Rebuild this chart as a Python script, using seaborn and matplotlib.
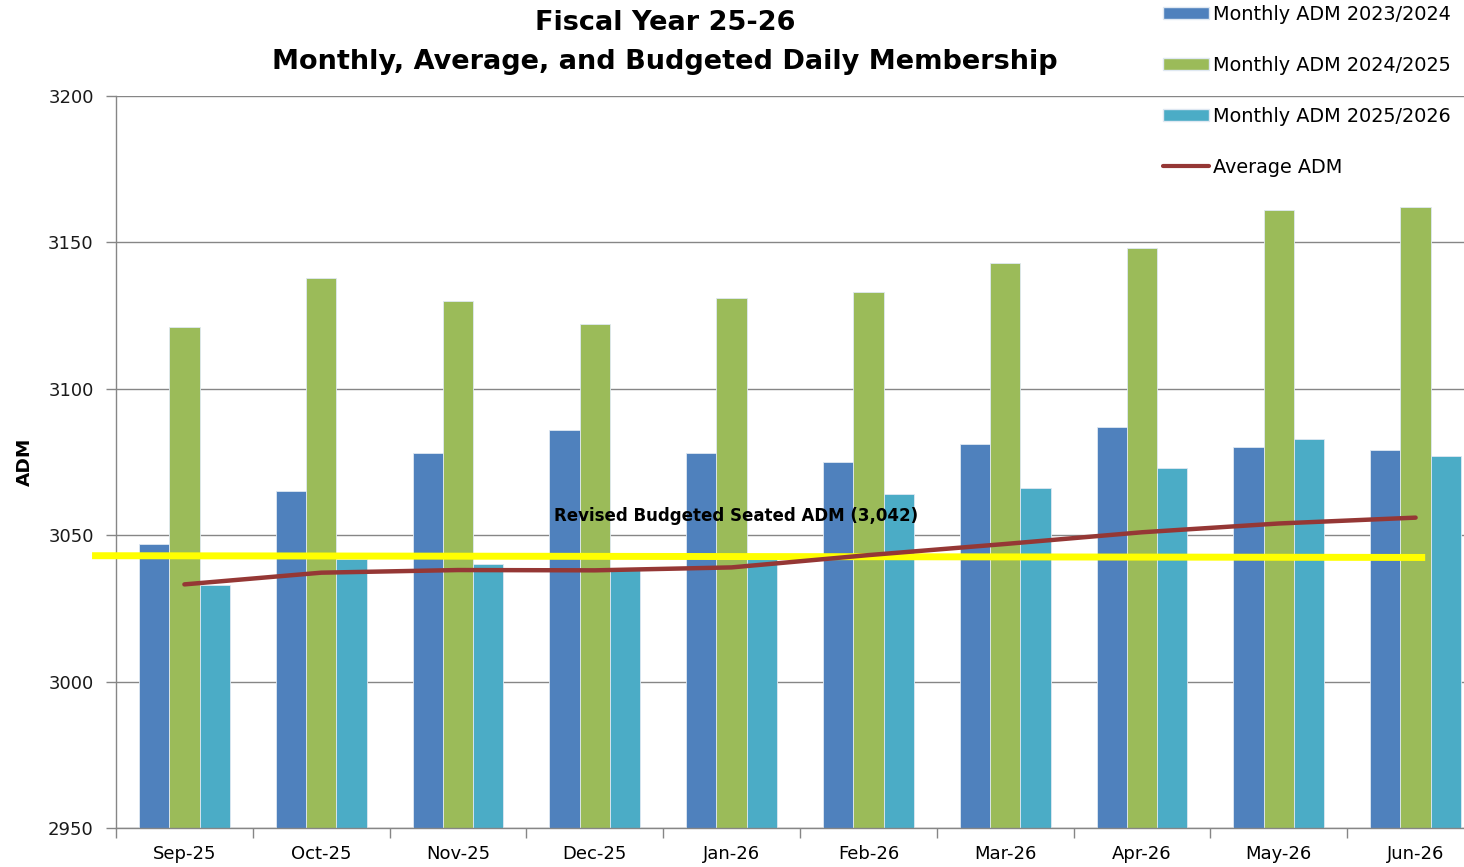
import numpy as np
import pandas as pd
import matplotlib
matplotlib.use("Agg")
import matplotlib.pyplot as plt
import seaborn as sns
from matplotlib.patches import Patch
from matplotlib.lines import Line2D

# dados
meses = ['Sep-25', 'Oct-25', 'Nov-25', 'Dec-25', 'Jan-26',
         'Feb-26', 'Mar-26', 'Apr-26', 'May-26', 'Jun-26']
adm_2023_2024 = [3047, 3065, 3078, 3086, 3078, 3075, 3081, 3087, 3080, 3079]
adm_2024_2025 = [3121, 3138, 3130, 3122, 3131, 3133, 3143, 3148, 3161, 3162]
adm_2025_2026 = [3033, 3042, 3040, 3038, 3042, 3064, 3066, 3073, 3083, 3077]
media_adm = [3033.2, 3037.2, 3038.1, 3038.0, 3039.0, 3043.2, 3047.0, 3051.0, 3054.0, 3056.0]
orcamento_inicio = 3043.0
orcamento_fim = 3042.4
series = ['Monthly ADM 2023/2024', 'Monthly ADM 2024/2025', 'Monthly ADM 2025/2026']
cores = ['#4F81BD', '#9BBB59', '#4BACC6']

sns.set_theme(style="white")
plt.rcParams.update({
    'font.family': ['DejaVu Sans'],
    'text.color': 'black',
    'axes.edgecolor': '#868686',
    'axes.linewidth': 1.0,
})

df = pd.DataFrame({
    'mes': meses * 3,
    'serie': np.repeat(series, len(meses)),
    'adm': adm_2023_2024 + adm_2024_2025 + adm_2025_2026,
})

fig = plt.figure(figsize=(14.64, 8.67), dpi=100)
ax = fig.add_axes([116 / 1464, 1 - 828 / 867, 1368 / 1464, 732 / 867])

sns.barplot(data=df, x='mes', y='adm', hue='serie', order=meses, hue_order=series,
            palette=cores, saturation=1, width=0.665, errorbar=None,
            edgecolor='#dfe8f2', linewidth=0.6, legend=False, ax=ax, zorder=2)

ax.plot(np.arange(len(meses)), media_adm, color='#953735', linewidth=3.2, zorder=4)
ax.plot([-0.675, 9.07], [orcamento_inicio, orcamento_fim], color='#FFFF00',
        linewidth=5, zorder=3, clip_on=False, solid_capstyle='butt')
ax.text(4.03, 3056.6, 'Revised Budgeted Seated ADM (3,042)', ha='center', va='center',
        fontsize=12, fontweight='bold', color='black', zorder=5)

ax.set_xlim(-0.5, 9.5)
ax.set_ylim(2950, 3200)
ax.set_yticks(np.arange(2950, 3201, 50))
ax.yaxis.grid(True, color='#868686', linewidth=1.0)
ax.set_axisbelow(True)
for lado in ['top', 'right']:
    ax.spines[lado].set_visible(False)

ax.set_xticks(np.arange(len(meses)))
ax.set_xticklabels(meses)
ax.set_xticks(np.arange(-0.5, 10, 1), minor=True)
ax.tick_params(axis='x', which='major', length=0, pad=12, labelsize=13, labelcolor='black')
ax.tick_params(axis='x', which='minor', length=7, width=1, color='#868686', bottom=True)
ax.tick_params(axis='y', length=7, width=1, color='#868686', pad=9, labelsize=13,
               left=True, labelcolor='#1a1a1a')
ax.set_xlabel('')
ax.set_ylabel('')
fig.text(25 / 1464, 1 - 462 / 867, 'ADM', rotation=90, ha='center', va='center',
         fontsize=13.3, fontweight='bold')

fig.text(665 / 1464, 1 - 23 / 867, 'Fiscal Year 25-26', ha='center', va='center',
         fontsize=19.5, fontweight='bold')
fig.text(665 / 1464, 1 - 62 / 867, 'Monthly, Average, and Budgeted Daily Membership',
         ha='center', va='center', fontsize=19.5, fontweight='bold')

handles = [Patch(facecolor=c, edgecolor='#dfe8f2') for c in cores]
handles.append(Line2D([0], [0], color='#953735', linewidth=3))
fig.legend(handles, series + ['Average ADM'], loc='upper left',
           bbox_to_anchor=(1163 / 1464, 1 - 5 / 867), frameon=False, fontsize=13.9,
           borderpad=0, borderaxespad=0, handlelength=2.4, handleheight=0.55,
           handletextpad=0.2, labelspacing=1.65)

fig.savefig('out.png', dpi=100)
